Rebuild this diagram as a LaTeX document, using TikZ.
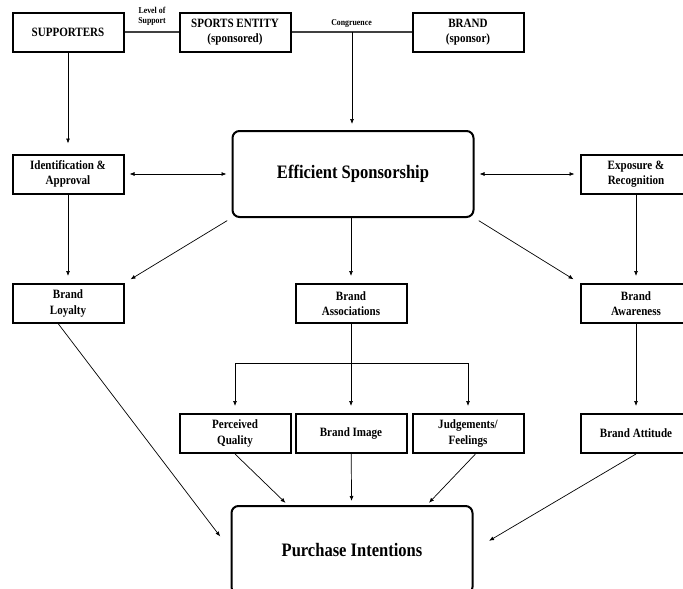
\documentclass[tikz,border=0pt]{standalone}
\usepackage{fontspec}
\setmainfont{Liberation Serif}[FakeStretch=0.87]
\usetikzlibrary{arrows.meta}
\begin{document}
\begin{tikzpicture}[x=1pt,y=-1pt]
\tikzset{
  SP box/.style ={draw, line width=2pt, minimum width=111pt, minimum height=39pt,
                  inner sep=1pt, align=center, font=\bfseries\fontsize{12.7}{15.5}\selectfont},
  SP core/.style={SP box, rounded corners=7pt, minimum width=241pt, minimum height=86pt,
                  font=\bfseries\fontsize{19}{21}\selectfont},
  SP link/.style={line width=0.7pt, -{Latex[length=5pt, width=4pt]}, shorten >=7pt},
  SP both/.style={SP link, {Latex[length=5pt, width=4pt]}-{Latex[length=5pt, width=4pt]},
                  shorten <=5pt, shorten >=5pt},
  SP tie/.style ={line width=1.2pt, black!75},
  SP tag/.style ={align=center, inner sep=0pt, font=\bfseries\fontsize{9}{9.5}\selectfont}
}
\useasboundingbox (0,0) rectangle (683,589);

\node[SP box] (sup) at (68,32)  {SUPPORTERS};
\node[SP box] (ent) at (235,32) {SPORTS ENTITY\\(sponsored)};
\node[SP box] (brd) at (468,32) {BRAND\\(sponsor)};
\node[SP tag] (lvl) at (152,16.5) {Level of\\Support};
\node[SP tag] (cng) at (351.5,24) {Congruence};

\node[SP box]  (idf) at (68,174)  {Identification \&\\Approval};
\node[SP core] (eff) at (353,174) {Efficient Sponsorship};
\node[SP box]  (exp) at (636,174) {Exposure \&\\Recognition};

\node[SP box] (loy) at (68,303.5)  {Brand\\Loyalty};
\node[SP box] (asc) at (351,303.5) {Brand\\Associations};
\node[SP box] (awr) at (636,303.5) {Brand\\Awareness};

\node[SP box] (pq)  at (235,433.5) {Perceived\\Quality};
\node[SP box] (img) at (351,433.5) {Brand Image};
\node[SP box] (jf)  at (468,433.5) {Judgements/\\Feelings};
\node[SP box] (att) at (636,433.5) {Brand Attitude};

\node[SP core, minimum height=88pt] (pur) at (352,550) {Purchase Intentions};

\coordinate (cg)   at (352,32);
\coordinate (fork) at (351,363);

\draw[SP tie] (sup) -- (ent);
\draw[SP tie] (ent) -- (brd);
\draw[SP link, shorten >=6pt] (cg) -- (cg |- eff.north);
\draw[SP link, shorten >=10pt] (sup) -- (idf);

\draw[SP both] (idf) -- (eff);
\draw[SP both] (eff) -- (exp);

\draw[SP link] (idf) -- (loy);
\draw[SP link] (exp) -- (awr);
\draw[SP link, shorten <=5pt] (eff.south west) -- (loy.north east);
\draw[SP link] (eff.south -| asc) -- (asc);
\draw[SP link, shorten <=5pt] (eff.south east) -- (awr.north west);

\draw[line width=0.7pt] (asc) -- (fork);
\draw[SP link] (fork) -- (img);
\draw[SP link] (fork) -| (pq);
\draw[SP link] (fork) -| (jf);
\draw[SP link] (awr) -- (att);

\draw[SP link, shorten >=17pt] (loy.245) -- (pur.west);
\draw[SP link, shorten >=3pt] (pq.south) -- (pur.145);
\draw[SP link, shorten >=4pt] (img) -- (pur);
\draw[SP link, shorten >=3pt] (jf.290) -- (pur.31);
\draw[SP link, shorten >=18pt] (att.south) -- (pur.east);
\end{tikzpicture}
\end{document}
